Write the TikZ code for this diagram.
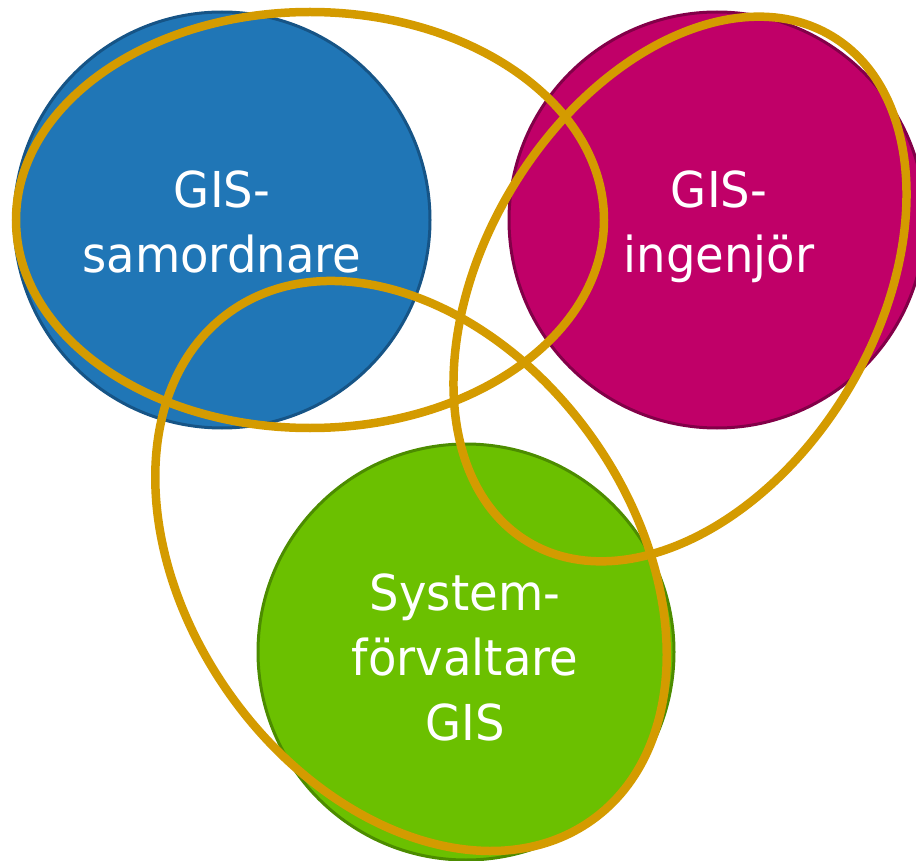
\documentclass[tikz,border=0pt]{standalone}
\usepackage{fontspec}
\newfontfamily\lblfont{DejaVu Sans}[FakeStretch=0.94]
\definecolor{bluefill}{RGB}{32,118,182}
\definecolor{blueline}{RGB}{22,84,134}
\definecolor{magfill}{RGB}{192,0,104}
\definecolor{magline}{RGB}{130,0,72}
\definecolor{greenfill}{RGB}{107,192,0}
\definecolor{greenline}{RGB}{76,140,0}
\definecolor{ringcol}{RGB}{212,155,0}
\begin{document}
\begin{tikzpicture}[x=1pt,y=-1pt,
  circ/.style={circle,minimum size=416pt,inner sep=0pt,line width=3pt},
  lbl/.style={font=\lblfont\fontsize{49.5}{65}\selectfont,text=white,inner sep=0pt,anchor=base},
  ring/.style={draw=ringcol,line width=8.5pt}]
\clip (0,0) rectangle (916,861);
\node[circ,fill=bluefill,draw=blueline] (blue) at (222,220) {};
\node[circ,fill=magfill,draw=magline] (mag) at (717,220) {};
\node[circ,fill=greenfill,draw=greenline] (green) at (466,652) {};
\node[lbl] (tblue) at (222,208) {\begin{tabular}[t]{@{}c@{}}GIS-\\samordnare\end{tabular}};
\node[lbl] (tmag) at (719,208) {\begin{tabular}[t]{@{}c@{}}GIS-\\ingenjör\end{tabular}};
\node[lbl] (tgreen) at (465,610) {\begin{tabular}[t]{@{}c@{}}System-\\förvaltare\\GIS\end{tabular}};
\coordinate (ca) at (310,220);
\coordinate (cb) at (680,289);
\coordinate (cc) at (411,566);
\draw[ring] (ca) ellipse [x radius=294, y radius=208];
\draw[ring, rotate around={59:(cb)}] (cb) ellipse [x radius=295, y radius=196];
\draw[ring, rotate around={-54.6:(cc)}] (cc) ellipse [x radius=312, y radius=222];
\end{tikzpicture}
\end{document}
